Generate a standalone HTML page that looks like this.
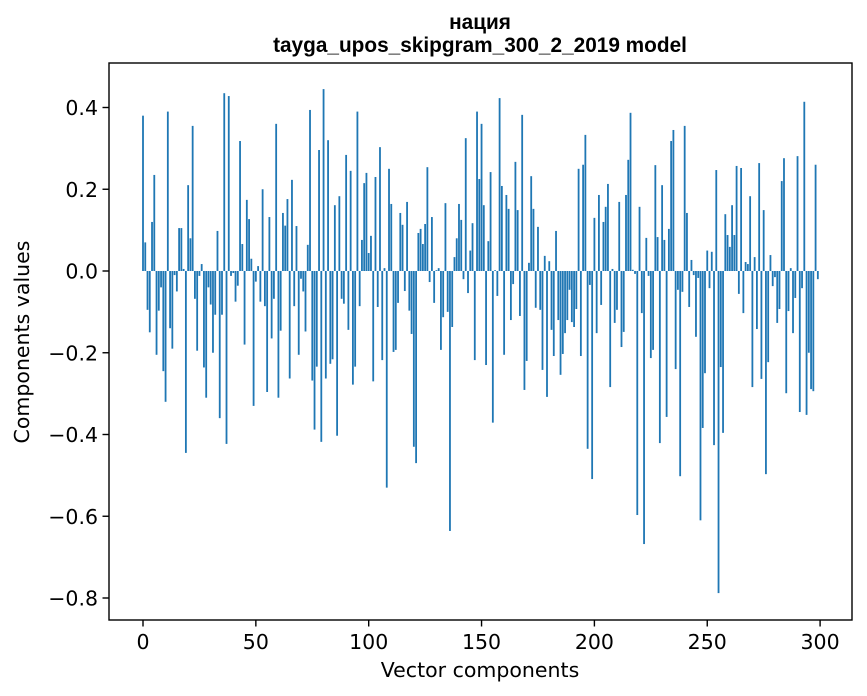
<!DOCTYPE html>
<html><head><meta charset="utf-8"><style>
body{margin:0;background:#fff;}
svg{display:block;font-family:"DejaVu Sans","Liberation Sans",sans-serif;}
</style></head><body>
<svg id="chart" width="867" height="696" viewBox="0 0 867 696" xmlns="http://www.w3.org/2000/svg">
<text x="480" y="29" text-anchor="middle" font-size="20.8" font-weight="bold" font-family="Liberation Sans, sans-serif">нация</text>
<text x="480" y="52" text-anchor="middle" font-size="20.8" font-weight="bold" font-family="Liberation Sans, sans-serif">tayga_upos_skipgram_300_2_2019 model</text>
<text transform="translate(29,342) rotate(-90)" text-anchor="middle" font-size="20.5">Components values</text>
<text x="480" y="677" text-anchor="middle" font-size="20.5">Vector components</text>
<g id="bars"></g>
<g id="axes"></g>
</svg>
<script>
const values = [
0.38,0.07,-0.095,-0.15,0.12,0.235,-0.205,-0.097,-0.04,-0.245,
-0.32,0.39,-0.14,-0.19,-0.01,-0.05,0.105,0.105,0.005,-0.445,
0.21,0.08,0.355,-0.068,-0.195,-0.012,0.017,-0.236,-0.31,-0.04,
-0.082,-0.2,-0.107,0.098,-0.36,-0.107,0.435,-0.423,0.428,-0.012,
-0.005,-0.075,-0.036,0.318,0.066,-0.18,0.174,0.127,0.03,-0.33,
-0.026,0.012,-0.075,0.2,-0.086,-0.296,0.132,-0.165,-0.068,0.36,
-0.31,-0.146,0.142,0.111,0.176,-0.263,0.223,-0.086,0.11,-0.205,
-0.019,-0.05,-0.148,0.064,0.394,-0.268,-0.388,-0.234,0.296,-0.418,
0.445,-0.263,0.32,-0.227,-0.216,0.161,-0.403,0.183,-0.068,-0.08,
0.284,-0.144,0.245,-0.278,-0.234,0.39,-0.086,0.076,0.215,0.24,
0.044,0.086,-0.27,0.23,-0.088,0.303,-0.218,0.007,-0.53,0.25,
0.164,-0.198,-0.193,-0.078,0.142,0.113,-0.049,0.169,-0.097,-0.154,
-0.43,-0.47,0.093,0.103,0.066,0.115,0.254,-0.027,0.132,-0.078,
0.002,0.007,-0.193,-0.113,0.166,-0.1,-0.636,-0.137,0.034,0.08,
0.164,0.125,-0.02,0.325,-0.054,0.05,0.117,-0.218,0.39,0.225,
0.36,0.161,-0.23,0.073,0.242,-0.371,0.002,-0.061,0.423,0.208,
-0.205,0.186,0.152,-0.12,-0.032,0.267,0.149,-0.11,0.382,-0.291,
-0.22,0.02,0.232,0.152,-0.09,0.108,-0.095,-0.242,0.037,-0.308,
0.024,-0.144,-0.208,0.098,-0.12,-0.254,-0.203,-0.152,-0.12,-0.046,
-0.125,-0.137,-0.093,0.25,-0.208,0.26,0.333,-0.435,-0.034,-0.509,
0.13,-0.152,0.186,-0.083,0.12,0.157,0.213,-0.284,0.005,-0.127,
-0.095,0.169,-0.186,-0.149,0.186,0.272,0.387,0.003,-0.007,-0.597,
0.157,-0.103,-0.668,0.081,-0.012,-0.213,-0.193,0.259,0.083,-0.421,
0.21,0.076,-0.357,0.103,0.318,0.345,-0.24,-0.046,-0.502,-0.051,
0.355,0.142,-0.088,0.027,-0.01,-0.161,-0.017,-0.61,-0.384,-0.25,
0.05,-0.042,0.047,-0.426,0.247,-0.788,-0.235,-0.396,0.139,0.088,
0.059,0.161,0.088,0.257,-0.056,0.252,-0.103,0.022,0.017,0.183,
-0.284,0.034,-0.142,0.264,-0.264,0.149,-0.497,-0.223,0.039,-0.037,
-0.015,-0.127,-0.093,0.22,0.276,-0.299,-0.098,0.007,-0.152,-0.066,
0.281,-0.345,-0.042,0.414,-0.352,-0.2,-0.289,-0.294,0.26,-0.02
];
const xTicks = [0,50,100,150,200,250,300];
const yTicks = [0.4,0.2,0.0,-0.2,-0.4,-0.6,-0.8];
const yTickLabels = ["0.4","0.2","0.0","\u22120.2","\u22120.4","\u22120.6","\u22120.8"];

const NS="http://www.w3.org/2000/svg";
const plot={left:109,right:852,top:63,bottom:620};
function xScale(i){return 143+(820.1-143)*i/300;}
function yScale(v){return 271-408.75*v;}
const bw=(xScale(1)-xScale(0))*0.8;
const bars=document.getElementById('bars');
values.forEach((v,i)=>{
  const r=document.createElementNS(NS,'rect');
  
  
  const y0=yScale(0),y1=yScale(v);
  r.setAttribute('x',xScale(i)-bw/2);
  r.setAttribute('y',Math.min(y0,y1));
  r.setAttribute('width',bw);
  r.setAttribute('height',Math.max(Math.abs(y1-y0),0.3));
  r.setAttribute('fill','#1f77b4');
  bars.appendChild(r);
});
const axes=document.getElementById('axes');
const frame=document.createElementNS(NS,'rect');


frame.setAttribute('x',plot.left);frame.setAttribute('y',plot.top);
frame.setAttribute('width',plot.right-plot.left);frame.setAttribute('height',plot.bottom-plot.top);
frame.setAttribute('fill','none');frame.setAttribute('stroke','#000');frame.setAttribute('stroke-width','1.4');
axes.appendChild(frame);
xTicks.forEach(t=>{
  const x=xScale(t);
  const l=document.createElementNS(NS,'line');
  
  
  l.setAttribute('x1',x);l.setAttribute('x2',x);l.setAttribute('y1',plot.bottom);l.setAttribute('y2',plot.bottom+6.5);
  l.setAttribute('stroke','#000');l.setAttribute('stroke-width','1.4');axes.appendChild(l);
  const tx=document.createElementNS(NS,'text');
  
  
  tx.setAttribute('x',x);tx.setAttribute('y',plot.bottom+29);
  tx.setAttribute('text-anchor','middle');tx.setAttribute('font-size','20.5');
  tx.textContent=String(t);axes.appendChild(tx);
});
yTicks.forEach((t,k)=>{
  const y=yScale(t);
  const l=document.createElementNS(NS,'line');
  
  
  l.setAttribute('x1',plot.left-6.5);l.setAttribute('x2',plot.left);l.setAttribute('y1',y);l.setAttribute('y2',y);
  l.setAttribute('stroke','#000');l.setAttribute('stroke-width','1.4');axes.appendChild(l);
  const tx=document.createElementNS(NS,'text');
  
  
  tx.setAttribute('x',plot.left-11);tx.setAttribute('y',y+7.5);
  tx.setAttribute('text-anchor','end');tx.setAttribute('font-size','20.5');
  tx.textContent=yTickLabels[k];axes.appendChild(tx);
});
</script>
</body></html>
